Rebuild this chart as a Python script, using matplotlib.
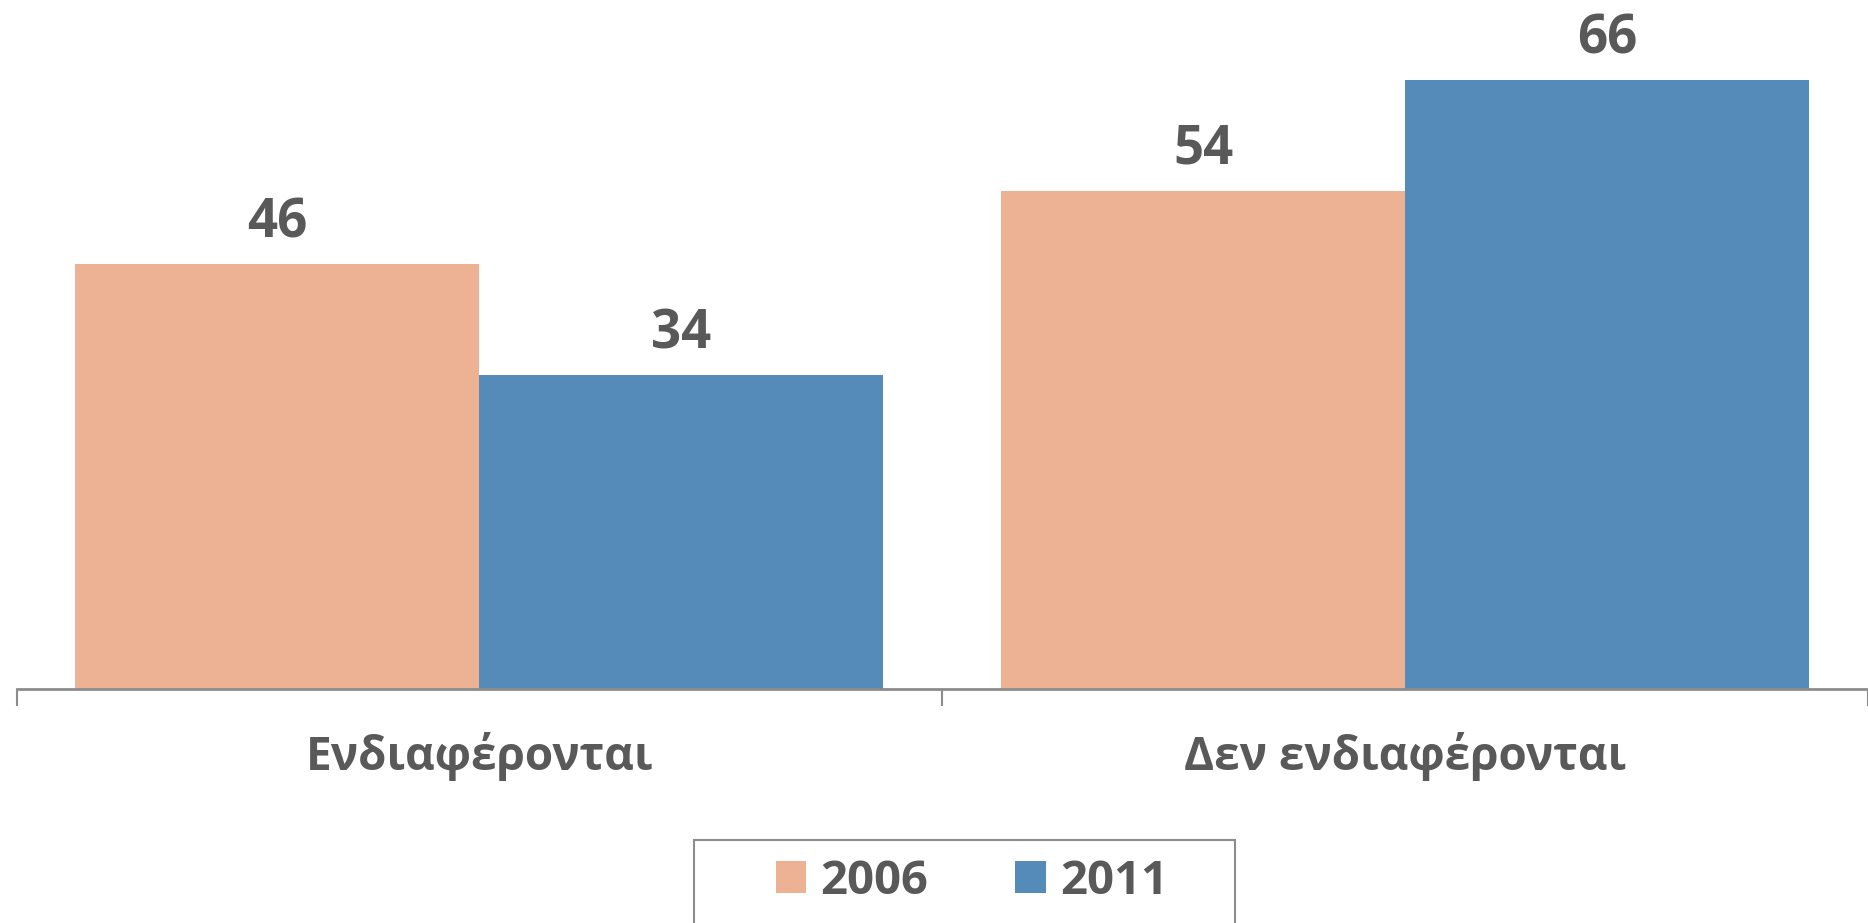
import matplotlib
matplotlib.use("Agg")
import numpy as np
import matplotlib.pyplot as plt
from matplotlib.patches import Rectangle

plt.rcParams["font.family"] = ["Open Sans", "DejaVu Sans"]

categories = ["Ενδιαφέρονται", "Δεν ενδιαφέρονται"]
years = ["2006", "2011"]
values_2006 = [46, 54]
values_2011 = [34, 66]

col_2006 = "#EDB293"
col_2011 = "#558BB9"
text_col = "#595959"
axis_col = "#8C8C8C"

W, H = 1868, 923
fig = plt.figure(figsize=(W / 100, H / 100), dpi=100)

# axes placed in pixel terms so the baseline lands where the reference has it
left, right = 16.5, 1868
bottom, top = 689, 43
ax = fig.add_axes([left / W, (H - bottom) / H, (right - left) / W, (bottom - top) / H])

x = np.arange(len(categories))
bw = 0.4364

b1 = ax.bar(x - bw / 2, values_2006, bw, color=col_2006, label=years[0])
b2 = ax.bar(x + bw / 2, values_2011, bw, color=col_2011, label=years[1])

for bars in (b1, b2):
    for rect in bars:
        ax.annotate(
            f"{rect.get_height():.0f}",
            (rect.get_x() + rect.get_width() / 2, rect.get_height()),
            xytext=(0, 10),
            textcoords="offset points",
            ha="center",
            va="bottom",
            fontsize=38,
            fontweight="bold",
            color=text_col,
        )

ax.set_xlim(-0.5, -0.5 + (right - left) / 931)
ax.set_ylim(0, 70)

for s in ["top", "right", "left"]:
    ax.spines[s].set_visible(False)
ax.spines["bottom"].set_color(axis_col)
ax.spines["bottom"].set_linewidth(2)

ax.set_yticks([])
ax.set_xticks([-0.5, 0.5, 1.5])
ax.set_xticklabels([])
ax.tick_params(axis="x", direction="out", length=12, width=1.5, color=axis_col)

for xi, cat in zip(x, categories):
    ax.text(
        xi, -7.3, cat,
        ha="center", va="center",
        fontsize=33, fontweight="bold", color=text_col,
        transform=ax.transData, clip_on=False,
    )

# legend box
fig.patches.append(
    Rectangle((694 / W, -0.05), (1235 - 694) / W, (H - 840) / H + 0.05,
              transform=fig.transFigure, fill=False,
              edgecolor=axis_col, linewidth=1.5)
)
fig.legend(
    handles=[b1, b2],
    labels=years,
    loc="center",
    bbox_to_anchor=(972 / W, (H - 881) / H),
    ncol=2,
    frameon=False,
    prop={"weight": "bold", "size": 34},
    handlelength=0.64,
    handleheight=0.64,
    handletextpad=0.3,
    columnspacing=1.84,
    labelcolor=text_col,
)

fig.savefig("out.png", dpi=100)
